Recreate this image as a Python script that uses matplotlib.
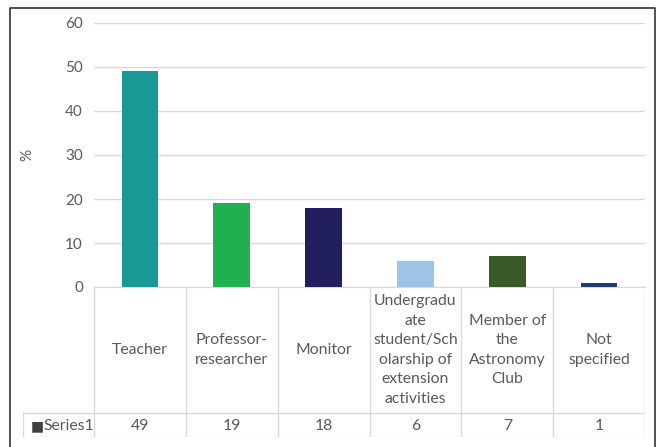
import numpy as np
import matplotlib.pyplot as plt

categories = ['Teacher', 'Professor-\nresearcher', 'Monitor',
              'Undergradu\nate\nstudent/Sch\nolarship of\nextension\nactivities',
              'Member of\nthe\nAstronomy\nClub', 'Not\nspecified']
values = [49, 19, 18, 6, 7, 1]
series_name = 'Series1'
bar_colors = ['#1A9A96', '#21B04F', '#211F5E', '#9DC3E6', '#3B5A2A', '#1F3A78']
yticks = [0, 10, 20, 30, 40, 50, 60]

plt.rcParams['font.family'] = ['Lato', 'DejaVu Sans']
txt = '#595959'
grid = '#D9D9D9'

W, H = 657, 447
fig = plt.figure(figsize=(W / 100, H / 100), dpi=100)

def fx(px):
    return px / W

def fy(py):
    return 1 - py / H

# chart border (no bottom edge visible)
fig.add_artist(plt.Line2D([fx(10), fx(10), fx(655), fx(655)],
                          [fy(450), fy(8), fy(8), fy(450)],
                          color='#333333', lw=1.2))

# bar area
left, right, top, zero = 94, 645, 23, 287
ax = fig.add_axes([fx(left), fy(zero), fx(right - left), (zero - top) / H])
n = len(values)
x = np.arange(n)
ax.bar(x, values, width=0.4, color=bar_colors, zorder=3)
ax.set_xlim(-0.5, n - 0.5)
ax.set_ylim(0, 60)
ax.set_yticks(yticks)
ax.set_xticks([])
ax.tick_params(axis='y', length=0, pad=8, labelsize=11, labelcolor=txt)
ax.grid(axis='y', color=grid, lw=1, zorder=0)
for s in ['top', 'right', 'left']:
    ax.spines[s].set_visible(False)
ax.spines['bottom'].set_color(grid)
ax.set_ylabel('%', color=txt, fontsize=11)
ax.yaxis.set_label_coords((34 - left) / (right - left), 0.5)

# data table
tleft, tbot, hdr_bot = 23, 437, 413
unit = (right - left) / n
xmin_tab = -0.5 - (left - tleft) / unit
tab = fig.add_axes([fx(tleft), fy(tbot), fx(right - tleft), (tbot - zero) / H])
tab.set_xlim(xmin_tab, n - 0.5)
tab.set_ylim(tbot, zero)
tab.axis('off')
for b in np.arange(n + 1) - 0.5:
    tab.plot([b, b], [zero, tbot], color=grid, lw=1)
tab.plot([xmin_tab, xmin_tab], [hdr_bot, tbot], color=grid, lw=1)
tab.plot([xmin_tab, n - 0.5], [hdr_bot, hdr_bot], color=grid, lw=1)
tab.plot([xmin_tab, n - 0.5], [tbot, tbot], color=grid, lw=1)

for i, (c, v) in enumerate(zip(categories, values)):
    tab.text(i, (zero + hdr_bot) / 2, c, ha='center', va='center',
             fontsize=11.3, color=txt, linespacing=1.5)
    tab.text(i, (hdr_bot + tbot) / 2 + 1, str(v), ha='center', va='center',
             fontsize=11.3, color=txt)

tab.text(xmin_tab + 0.08, (hdr_bot + tbot) / 2 + 1, '\u25A0', ha='left', va='center',
         fontsize=10, color='#404040', family=['DejaVu Sans'])
tab.text(xmin_tab + 0.22, (hdr_bot + tbot) / 2 + 1, series_name, ha='left', va='center',
         fontsize=11.3, color=txt)

fig.savefig('out.png', dpi=100, facecolor='white')
